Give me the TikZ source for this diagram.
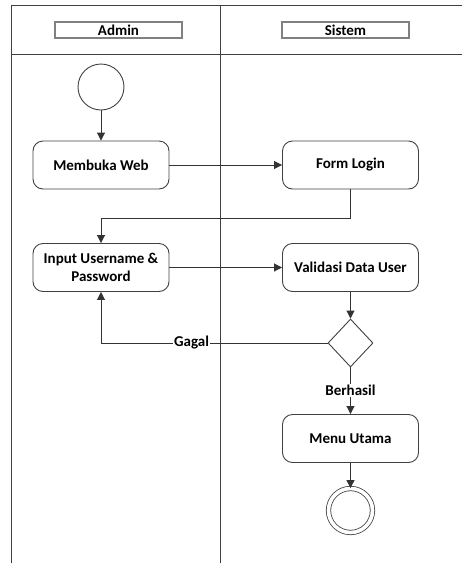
\documentclass[tikz,border=0pt]{standalone}
\usepackage{fontspec}
\setmainfont{Carlito}
\usetikzlibrary{arrows.meta,shapes.geometric}
\begin{document}
\begin{tikzpicture}[
  x=1pt, y=-1pt,
  font=\fontsize{15}{18}\selectfont\bfseries,
  actlane/.style = {line width=1pt, draw=black!75},
  acthead/.style = {draw=black!50, line width=1.4pt, minimum width=127, minimum height=16, inner sep=0pt},
  actbox/.style = {draw=black!75, line width=0.9pt, rounded corners=10pt, minimum width=136, minimum height=48, align=center, inner sep=2pt},
  actstart/.style = {circle, draw=black!75, line width=0.9pt, minimum size=46, inner sep=0pt},
  actend/.style = {circle, draw=black!75, line width=0.8pt, double=white, double distance=3.6pt, minimum size=44, inner sep=0pt},
  actcek/.style = {diamond, draw=black!75, line width=0.9pt, minimum width=45, minimum height=48, inner sep=0pt},
  actarrow/.style = {-{Triangle[length=8pt,width=8pt]}, line width=0.9pt, draw=black!80},
  actlbl/.style = {fill=white, inner sep=1pt}
]
  \useasboundingbox (0,0) rectangle (462,563);
  % swimlanes
  \draw[actlane] (11,563) -- (11,5) -- (462,5);
  \draw[actlane] (11,54) -- (462,54);
  \draw[actlane] (220,5) -- (220,563);
  \node[acthead] (admin) at (118.5,30) {Admin};
  \node[acthead] (sistem) at (345.5,30) {Sistem};
  % aktivitas
  \node[actstart] (start) at (101,87) {};
  \node[actbox] (web) at (101,165) {Membuka Web};
  \node[actbox] (login) at (350.5,165) {Form Login};
  \node[actbox] (input) at (101,267.5) {Input Username \&\\Password};
  \node[actbox] (validasi) at (350.5,267.5) {Validasi Data User};
  \node[actcek] (cek) at (350.5,343) {};
  \node[actbox] (menu) at (350.5,438.5) {Menu Utama};
  \node[actend] (end) at (350.5,510.5) {};
  \coordinate (belok) at (350.5,218);
  % alur
  \draw[actarrow] (start) -- (web);
  \draw[actarrow] (web) -- (login);
  \draw[actarrow] (login.south) -- (belok) -| (input.north);
  \draw[actarrow] (input) -- (validasi);
  \draw[actarrow] (validasi) -- (cek);
  \draw[actarrow] (cek.west) -- (cek.west -| input.south) node[pos=0.6, actlbl] {Gagal} -- (input.south);
  \draw[actarrow] (cek.south) -- node[actlbl] {Berhasil} (menu.north);
  \draw[actarrow] (menu) -- (end);
\end{tikzpicture}
\end{document}
